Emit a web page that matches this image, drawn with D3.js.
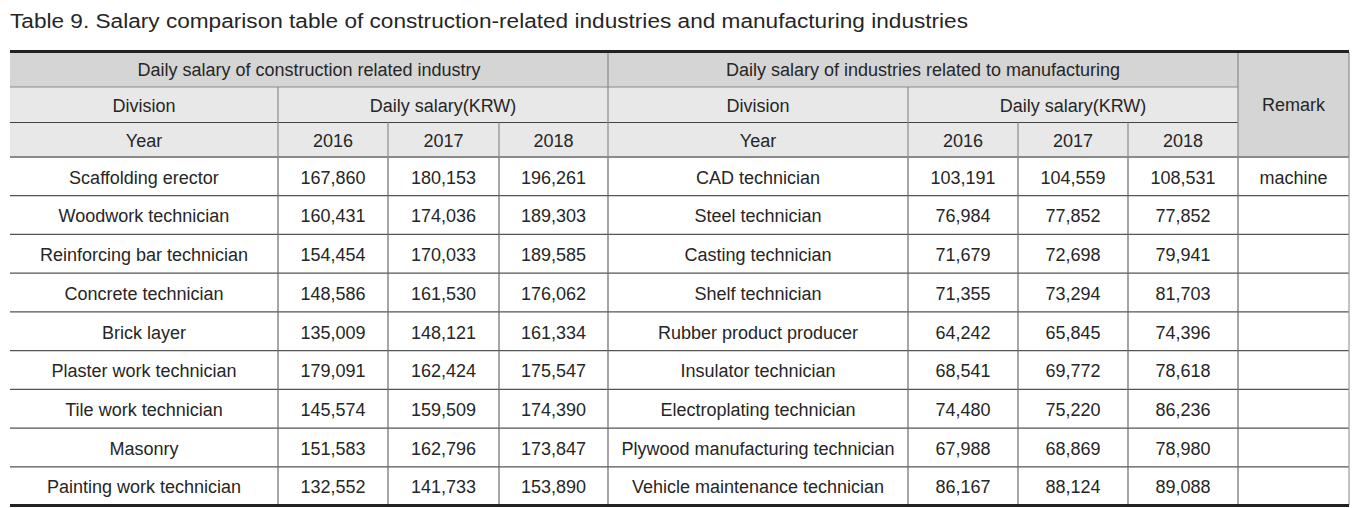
<!DOCTYPE html>
<html><head><meta charset="utf-8">
<script src="https://cdn.jsdelivr.net/npm/d3@7"></script>
<style>body{margin:0;background:#fff}svg{display:block}text{font-family:"Liberation Sans",Arial,sans-serif;fill:#262626}</style>
</head><body>
<script>
const title = "Table 9. Salary comparison table of construction-related industries and manufacturing industries";
const years = ["2016","2017","2018"];
const constructionJobs = ["Scaffolding erector","Woodwork technician","Reinforcing bar technician","Concrete technician","Brick layer","Plaster work technician","Tile work technician","Masonry","Painting work technician"];
const con2016 = [167860,160431,154454,148586,135009,179091,145574,151583,132552];
const con2017 = [180153,174036,170033,161530,148121,162424,159509,162796,141733];
const con2018 = [196261,189303,189585,176062,161334,175547,174390,173847,153890];
const manufacturingJobs = ["CAD technician","Steel technician","Casting technician","Shelf technician","Rubber product producer","Insulator technician","Electroplating technician","Plywood manufacturing technician","Vehicle maintenance technician"];
const man2016 = [103191,76984,71679,71355,64242,68541,74480,67988,86167];
const man2017 = [104559,77852,72698,73294,65845,69772,75220,68869,88124];
const man2018 = [108531,77852,79941,81703,74396,78618,86236,78980,89088];
const remarks = ["machine","","","","","","","",""];

const W = 1369, H = 508;
const svg = d3.select("body").append("svg").attr("width", W).attr("height", H);
const fmt = d3.format(",");

const colEdges = [10, 278, 388, 499, 608, 908, 1018, 1128, 1238, 1349];
const headEdges = [52, 87, 122.5, 157];
const nRows = constructionJobs.length;
const y = d3.scaleLinear().domain([0, nRows]).range([157, 505.5]);
const x = i => colEdges[i];

svg.append("text").attr("x", 10).attr("y", 27.5).attr("font-size", 20)
  .attr("textLength", 958).attr("lengthAdjust", "spacingAndGlyphs").text(title);

const header = [
  {c0:0,c1:4,r0:0,r1:1,t:"Daily salary of construction related industry",fill:"#d5d5d5"},
  {c0:4,c1:8,r0:0,r1:1,t:"Daily salary of industries related to manufacturing",fill:"#d5d5d5"},
  {c0:8,c1:9,r0:0,r1:3,t:"Remark",fill:"#d5d5d5"},
  {c0:0,c1:1,r0:1,r1:2,t:"Division",fill:"#e8e8e8"},
  {c0:1,c1:4,r0:1,r1:2,t:"Daily salary(KRW)",fill:"#e8e8e8"},
  {c0:4,c1:5,r0:1,r1:2,t:"Division",fill:"#e8e8e8"},
  {c0:5,c1:8,r0:1,r1:2,t:"Daily salary(KRW)",fill:"#e8e8e8"},
  {c0:0,c1:1,r0:2,r1:3,t:"Year",fill:"#e8e8e8"},
  ...years.map((yr,i)=>({c0:1+i,c1:2+i,r0:2,r1:3,t:yr,fill:"#e8e8e8"})),
  {c0:4,c1:5,r0:2,r1:3,t:"Year",fill:"#e8e8e8"},
  ...years.map((yr,i)=>({c0:5+i,c1:6+i,r0:2,r1:3,t:yr,fill:"#e8e8e8"}))
];

const hg = svg.append("g");
hg.selectAll("rect").data(header).join("rect")
  .attr("x", d=>x(d.c0)).attr("y", d=>headEdges[d.r0])
  .attr("width", d=>x(d.c1)-x(d.c0)).attr("height", d=>headEdges[d.r1]-headEdges[d.r0])
  .attr("fill", d=>d.fill);
hg.selectAll("text").data(header).join("text")
  .attr("x", d=>(x(d.c0)+x(d.c1))/2).attr("y", d=>(headEdges[d.r0]+headEdges[d.r1])/2+2)
  .attr("text-anchor","middle").attr("dominant-baseline","middle")
  .attr("font-size", 18).text(d=>d.t);

const lines = svg.append("g");
lines.append("line").attr("x1",x(0)).attr("x2",x(8)).attr("y1",headEdges[1]).attr("y2",headEdges[1]).attr("stroke","#8a8a8a").attr("stroke-width",1.2);
lines.append("line").attr("x1",x(0)).attr("x2",x(8)).attr("y1",headEdges[2]).attr("y2",headEdges[2]).attr("stroke","#444").attr("stroke-width",1.2);
const hv = [
  {c:4,r0:0,r1:3},{c:8,r0:0,r1:3},{c:1,r0:1,r1:3},{c:5,r0:1,r1:3},
  {c:2,r0:2,r1:3},{c:3,r0:2,r1:3},{c:6,r0:2,r1:3},{c:7,r0:2,r1:3},{c:9,r0:0,r1:3}
];
lines.selectAll("line.hv").data(hv).join("line").attr("class","hv")
  .attr("x1",d=>x(d.c)).attr("x2",d=>x(d.c)).attr("y1",d=>headEdges[d.r0]).attr("y2",d=>headEdges[d.r1])
  .attr("stroke","#8a8a8a").attr("stroke-width",1.2);

const rows = d3.range(nRows).map(i => [
  constructionJobs[i], fmt(con2016[i]), fmt(con2017[i]), fmt(con2018[i]),
  manufacturingJobs[i], fmt(man2016[i]), fmt(man2017[i]), fmt(man2018[i]), remarks[i]
]);
const rg = svg.append("g").selectAll("g").data(rows).join("g");
rg.selectAll("text").data((d,i)=>d.map((t,c)=>({t,c,i}))).join("text")
  .attr("x", d=>(x(d.c)+x(d.c+1))/2).attr("y", d=>(y(d.i)+y(d.i+1))/2+2.5)
  .attr("text-anchor","middle").attr("dominant-baseline","middle")
  .attr("font-size",18).text(d=>d.t);

lines.selectAll("line.dh").data(d3.range(1,nRows)).join("line").attr("class","dh")
  .attr("x1",x(0)).attr("x2",x(9)).attr("y1",d=>y(d)).attr("y2",d=>y(d))
  .attr("stroke","#555").attr("stroke-width",1.2);
lines.selectAll("line.dv").data(d3.range(1,10)).join("line").attr("class","dv")
  .attr("x1",d=>x(d)).attr("x2",d=>x(d)).attr("y1",y(0)).attr("y2",y(nRows))
  .attr("stroke",d=>d===9?"#999":"#6a6a6a").attr("stroke-width",1.2);
lines.append("line").attr("x1",x(0)).attr("x2",x(9)).attr("y1",y(0)).attr("y2",y(0)).attr("stroke","#8a8a8a").attr("stroke-width",2.2);
lines.append("line").attr("x1",x(0)).attr("x2",x(9)).attr("y1",51.5).attr("y2",51.5).attr("stroke","#222").attr("stroke-width",3);
lines.append("line").attr("x1",x(0)).attr("x2",x(9)).attr("y1",y(nRows)).attr("y2",y(nRows)).attr("stroke","#222").attr("stroke-width",3);
</script>
</body></html>
